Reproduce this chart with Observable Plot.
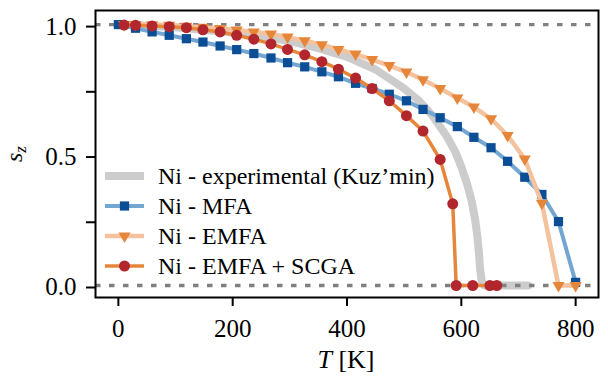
<!DOCTYPE html>
<html>
<head>
<meta charset="utf-8">
<script src="https://cdn.jsdelivr.net/npm/d3@7"></script>
<script src="https://cdn.jsdelivr.net/npm/@observablehq/plot@0.6"></script>
<style>
  html, body { margin: 0; padding: 0; background: white; }
</style>
</head>
<body>
<div id="chart"></div>
<script>
// ---- data ----
const xTicks = [0, 200, 400, 600, 800];
const yTicks = [0, 0.25, 0.5, 0.75, 1.0];
const yTickLabels = ["0.0", "", "0.5", "", "1.0"];

const legendLabels = [
  "Ni - experimental (Kuz\u2019min)",
  "Ni - MFA",
  "Ni - EMFA",
  "Ni - EMFA + SCGA"
];

// experimental (Kuz'min) curve
const T_exp = [0, 100, 200, 300, 350, 400, 450, 500, 525, 550, 575, 590, 600, 610, 618, 624, 628, 631, 633, 636, 640, 717];
const s_exp = [1.0, 0.99, 0.97, 0.937, 0.91, 0.876, 0.828, 0.755, 0.71, 0.65, 0.57, 0.51, 0.455, 0.39, 0.325, 0.255, 0.19, 0.12, 0.06, 0.015, 0.0, 0.0];

// MFA
const T_mfa = [0, 30, 59, 89, 119, 148, 178, 207, 237, 267, 296, 326, 356, 385, 415, 444, 474, 504, 533, 563, 593, 622, 652, 681, 711, 741, 770, 800];
const s_mfa = [1.0, 0.986, 0.972, 0.959, 0.946, 0.933, 0.918, 0.904, 0.889, 0.872, 0.854, 0.838, 0.819, 0.800, 0.775, 0.755, 0.733, 0.708, 0.675, 0.643, 0.609, 0.568, 0.528, 0.476, 0.415, 0.349, 0.245, 0.012];

// EMFA
const T_emfa = [10, 30, 59, 89, 119, 148, 178, 207, 237, 267, 296, 326, 356, 385, 415, 444, 474, 504, 533, 563, 593, 622, 652, 681, 711, 741, 770, 800];
const s_emfa = [1.0, 1.0, 0.999, 0.997, 0.994, 0.990, 0.985, 0.979, 0.972, 0.964, 0.952, 0.938, 0.923, 0.905, 0.887, 0.866, 0.843, 0.818, 0.789, 0.755, 0.719, 0.684, 0.639, 0.575, 0.485, 0.315, 0.0, 0.0];

// EMFA + SCGA
const T_scga = [10, 30, 59, 89, 119, 148, 178, 207, 237, 267, 296, 326, 356, 385, 415, 444, 474, 504, 533, 563, 585, 591, 620, 650, 662];
const s_scga = [0.998, 0.997, 0.995, 0.992, 0.988, 0.980, 0.972, 0.959, 0.944, 0.926, 0.905, 0.884, 0.858, 0.829, 0.795, 0.755, 0.708, 0.651, 0.592, 0.483, 0.313, 0.0, 0.0, 0.0, 0.0];

// ---- styles ----
const C = {
  exp: "#cccccc",
  mfaLine: "#74a6d2", mfaDot: "#0c4e96",
  emfaLine: "#f5c29e", emfaDot: "#e5863a",
  scgaLine: "#e5863a", scgaDot: "#b2262e",
  ref: "#808080"
};
const FONT = "Liberation Serif";

const zip = (T, s) => T.map((t, i) => ({T: t, s: s[i]}));
const exp = zip(T_exp, s_exp);
const mfa = zip(T_mfa, s_mfa);
const emfa = zip(T_emfa, s_emfa);
const scga = zip(T_scga, s_scga);

const svg = Plot.plot({
  width: 608,
  height: 377,
  marginLeft: 95,
  marginRight: 10,
  marginTop: 10,
  marginBottom: 80,
  x: {domain: [-40, 840]},
  y: {domain: [-0.046, 1.054]},
  style: {fontFamily: FONT, background: "white", color: "black", overflow: "visible"},
  marks: [
    Plot.line(exp, {x: "T", y: "s", stroke: C.exp, strokeWidth: 8}),
    Plot.ruleY([0, 1], {stroke: C.ref, strokeWidth: 3.3, strokeDasharray: "5.5,8.5"}),
    Plot.line(mfa, {x: "T", y: "s", stroke: C.mfaLine, strokeWidth: 4}),
    Plot.dot(mfa, {x: "T", y: "s", symbol: "square", r: 5.2, fill: C.mfaDot, stroke: "none"}),
    Plot.line(emfa, {x: "T", y: "s", stroke: C.emfaLine, strokeWidth: 4.5}),
    Plot.dot(emfa, {x: "T", y: "s", symbol: "triangle", rotate: 180, r: 4.5, fill: C.emfaDot, stroke: "none"}),
    Plot.line(scga, {x: "T", y: "s", stroke: C.scgaLine, strokeWidth: 3.5}),
    Plot.dot(scga, {x: "T", y: "s", symbol: "circle", r: 5.5, fill: C.scgaDot, stroke: "none"}),
    Plot.frame({stroke: "black", strokeWidth: 2}),
    Plot.axisX({ticks: xTicks, tickSize: 9, tickPadding: 13, strokeWidth: 2, fontSize: 25, fontFamily: FONT, label: null, tickFormat: d => String(d)}),
    Plot.axisY({ticks: yTicks, tickSize: 9, tickPadding: 10, strokeWidth: 2, fontSize: 25, fontFamily: FONT, dy: 2, label: null,
      tickFormat: d => yTickLabels[yTicks.indexOf(d)]})
  ]
});

document.getElementById("chart").appendChild(svg);

// ---- axis labels & legend ----
const g = d3.select(svg);

// x label: T [K]
const xl = g.append("text")
  .attr("x", 346).attr("y", 368)
  .attr("text-anchor", "middle")
  .attr("font-family", FONT).attr("font-size", 26).attr("fill", "black");
xl.append("tspan").attr("font-style", "italic").text("T");
xl.append("tspan").text(" [K]");

// y label: s_z
const yl = g.append("text")
  .attr("transform", "translate(22,154) rotate(-90)")
  .attr("text-anchor", "middle")
  .attr("font-family", FONT).attr("font-size", 24).attr("fill", "black");
yl.append("tspan").attr("font-style", "italic").text("s");
yl.append("tspan").attr("font-style", "italic").attr("font-size", 17).attr("dy", 4).text("z");

// legend
const leg = g.append("g");
const rows = [
  {line: C.exp, lw: 8, sym: null},
  {line: C.mfaLine, lw: 4, sym: d3.symbolSquare, r: 5.2, fill: C.mfaDot, rot: 0},
  {line: C.emfaLine, lw: 4.5, sym: d3.symbolTriangle, r: 4.5, fill: C.emfaDot, rot: 180},
  {line: C.scgaLine, lw: 3.5, sym: d3.symbolCircle, r: 5.5, fill: C.scgaDot, rot: 0}
];
rows.forEach((row, i) => {
  const y = 176 + 30 * i;
  leg.append("line").attr("x1", 105).attr("x2", 144).attr("y1", y).attr("y2", y)
    .attr("stroke", row.line).attr("stroke-width", row.lw);
  if (row.sym) {
    leg.append("path")
      .attr("d", d3.symbol(row.sym, Math.PI * row.r * row.r)())
      .attr("transform", `translate(124.5,${y}) rotate(${row.rot})`)
      .attr("fill", row.fill);
  }
  leg.append("text").attr("x", 158).attr("y", y + 7.5)
    .attr("text-anchor", "start")
    .attr("font-family", FONT).attr("font-size", 24).attr("fill", "black")
    .text(legendLabels[i]);
});
</script>
</body>
</html>
